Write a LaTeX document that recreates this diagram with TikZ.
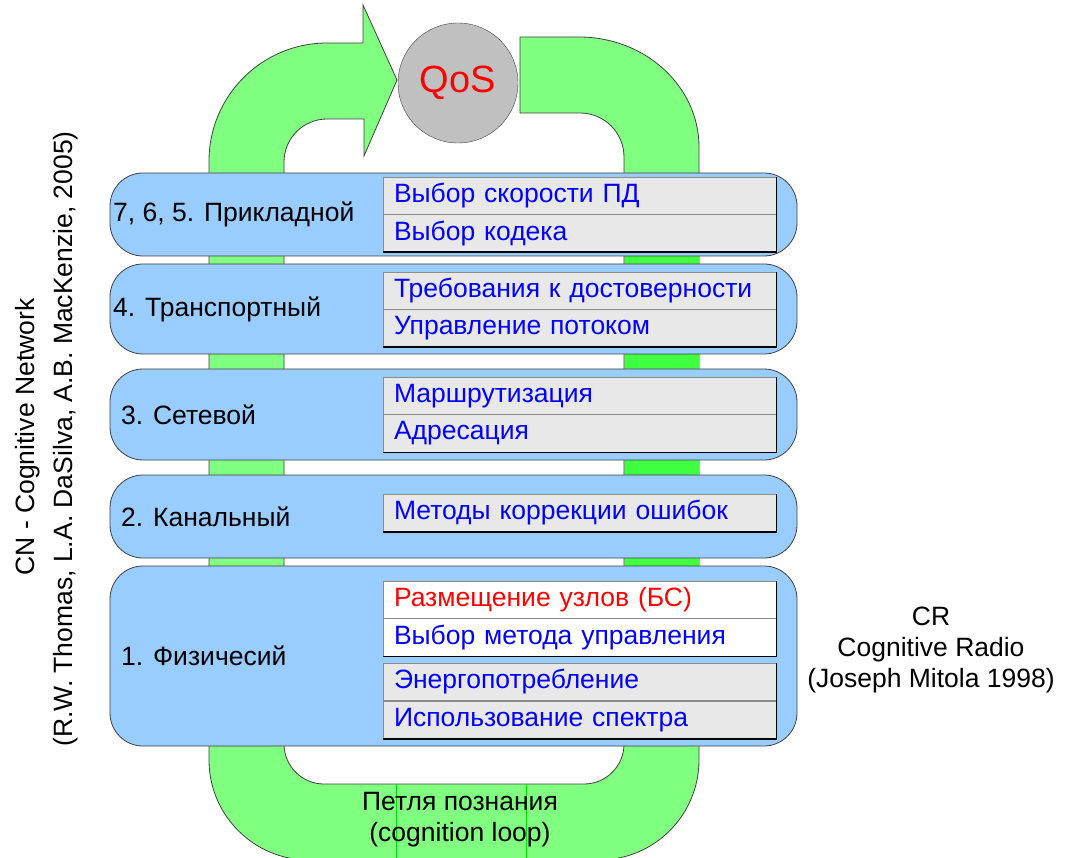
\documentclass[tikz,border=0pt]{standalone}
\usepackage{fontspec}
\setmainfont{Liberation Sans}
\definecolor{loopg}{HTML}{80FF80}
\definecolor{brightg}{HTML}{40FF40}
\definecolor{layerb}{HTML}{99CCFF}
\definecolor{cellg}{HTML}{E8E8E8}
\definecolor{qosg}{HTML}{C0C0C0}
\definecolor{edge}{HTML}{404040}
\definecolor{thingreen}{HTML}{00DD00}
\begin{document}
\begin{tikzpicture}[x=1pt,y=-1pt,
  every node/.style={font=\fontsize{26.5}{30}\selectfont},
  loopshape/.style={draw=edge, fill=loopg, line width=0.8pt},
  layer/.style={draw=edge, fill=layerb, line width=0.8pt, rounded corners=33pt, minimum width=687pt, inner sep=0},
  cell/.style={draw=edge!60, fill=cellg, line width=0.6pt, minimum width=393pt, minimum height=37.5pt, text width=371pt, align=left, inner xsep=11pt, inner ysep=0pt, text=blue},
  wcell/.style={cell, fill=white},
  shadowline/.style={draw=black, line width=1.6pt},
  lbl/.style={anchor=west, inner sep=0},
  multi/.style={align=center, font=\fontsize{26.5}{31}\selectfont}]
\useasboundingbox (0,0) rectangle (1068,858);
% cognition loop arrow
\draw[loopshape] (520,37) -- (579,37) .. controls (645.2,37) and (699,86.3) .. (699,147)
  -- (699,760) .. controls (699,815.2) and (654.2,860) .. (599,860)
  -- (309,860) .. controls (253.8,860) and (209,815.2) .. (209,760)
  -- (209,161) .. controls (209,95.9) and (261.9,43) .. (327,43)
  -- (363,43) -- (363,5) -- (397,80) -- (364,156) -- (364,119)
  -- (327,119) .. controls (303.3,119) and (284,138.3) .. (284,162)
  -- (284,744) .. controls (284,766.1) and (301.9,784) .. (324,784)
  -- (584,784) .. controls (606.1,784) and (624,766.1) .. (624,744)
  -- (624,157) .. controls (624,132.7) and (604.3,113) .. (580,113)
  -- (520,113) -- cycle;
\fill[brightg] (624.5,256) rectangle (698.5,566);
\draw[thingreen, line width=1pt] (396,784) -- (396,858);
\draw[thingreen, line width=1pt] (526,784) -- (526,858);
% QoS
\node[circle, draw=edge, fill=qosg, minimum size=120pt, inner sep=0, text=red, font=\fontsize{38}{40}\selectfont] (qos) at (458,83) {QoS};
% layers
\node[layer, minimum height=83pt] (L1) at (453.5,214.5) {};
\node[layer, minimum height=90pt] (L2) at (453.5,309) {};
\node[layer, minimum height=91pt] (L3) at (453.5,414.5) {};
\node[layer, minimum height=83pt] (L4) at (453.5,516.5) {};
\node[layer, minimum height=180pt] (L5) at (453.5,656) {};
\node[lbl] (t1) at (113,214.5) {7, 6, 5. Прикладной};
\node[lbl] (t2) at (113,309) {4. Транспортный};
\node[lbl] (t3) at (121,414.5) {3. Сетевой};
\node[lbl] (t4) at (121,516.5) {2. Канальный};
\node[lbl] (t5) at (121,656) {1. Физичесий};
% cells
\node[cell] (c1a) at (579.5,195.75) {Выбор скорости ПД};
\node[cell] (c1b) at (579.5,233.25) {Выбор кодека};
\draw[shadowline] (c1b.south west) -- (c1b.south east) -- (c1a.north east);
\node[cell] (c2a) at (579.5,290.75) {Требования к достоверности};
\node[cell] (c2b) at (579.5,328.25) {Управление потоком};
\draw[shadowline] (c2b.south west) -- (c2b.south east) -- (c2a.north east);
\node[cell] (c3a) at (579.5,395.75) {Маршрутизация};
\node[cell] (c3b) at (579.5,433.25) {Адресация};
\draw[shadowline] (c3b.south west) -- (c3b.south east) -- (c3a.north east);
\node[cell] (c4a) at (579.5,513) {Методы коррекции ошибок};
\draw[shadowline] (c4a.south west) -- (c4a.south east) -- (c4a.north east);
\node[wcell, text=red] (c5a) at (579.5,599.75) {Размещение узлов (БС)};
\node[wcell] (c5b) at (579.5,637.25) {Выбор метода управления};
\draw[shadowline] (c5b.south west) -- (c5b.south east) -- (c5a.north east);
\node[cell] (c5c) at (579.5,682) {Энергопотребление};
\node[cell] (c5d) at (579.5,720) {Использование спектра};
\draw[shadowline] (c5d.south west) -- (c5d.south east) -- (c5c.north east);
% side texts
\node[multi] (cr) at (931,650) {CR\\Cognitive Radio\\(Joseph Mitola 1998)};
\node[multi] (loopl) at (460,820) {Петля познания\\(cognition loop)};
\node[rotate=90] (cn1) at (28,437) {CN - Cognitive Network};
\node[rotate=90] (cn2) at (66,439) {(R.W. Thomas, L.A. DaSilva, A.B. MacKenzie, 2005)};
\end{tikzpicture}
\end{document}
